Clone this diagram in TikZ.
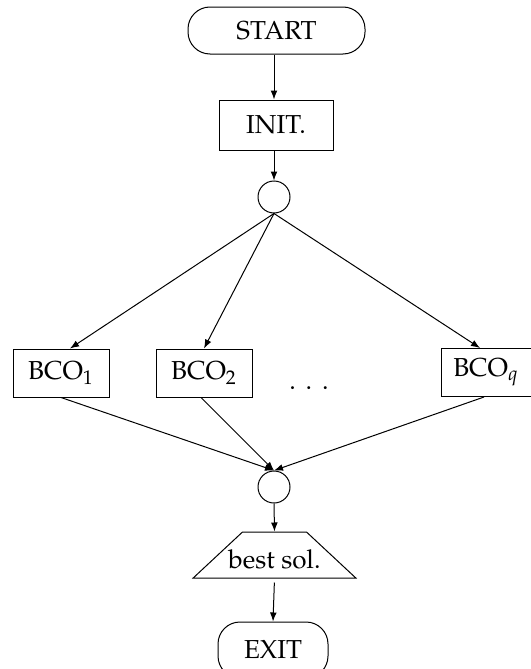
\documentclass[tikz,border=0pt]{standalone}
\usepackage[T1]{fontenc}
\usepackage{mathpazo}
\usetikzlibrary{arrows.meta,shapes.geometric}
\begin{document}
\begin{tikzpicture}[x=0.5pt,y=-0.5pt, line width=0.5pt,
  every node/.style={font=\fontsize{13}{15}\selectfont, inner sep=0pt},
  term/.style={draw, rounded corners=11pt},
  box/.style={draw, minimum width=48pt, minimum height=24pt},
  junc/.style={draw, circle, minimum size=16pt},
  arr/.style={-{Latex[length=4.5pt,width=3.4pt]}}]
\useasboundingbox (0,0) rectangle (530,669);
\node[term, minimum width=88.5pt, minimum height=23.5pt] (start) at (276.5,30.5) {START};
\node[draw, minimum width=57pt, minimum height=25pt] (init) at (276,125) {INIT.};
\node[junc] (c1) at (274,197) {};
\node[box] (b1) at (61,373) {BCO$_1$};
\node[box] (b2) at (204,373) {BCO$_2$};
\node[anchor=base] (dots) at (309,389) {.\hspace{4.9pt}.\hspace{4.9pt}.};
\node[box, minimum width=45pt] (bq) at (486,372.5) {BCO$_q$\hspace{4.5pt}};
\node[junc] (c2) at (274,487) {};
\node[trapezium, trapezium angle=43, draw, text height=18pt, text depth=5pt] (best) at (274.5,555) {\makebox[32pt]{best sol.}};
\node[term, minimum width=55pt, minimum height=28pt] (exit) at (273,650) {EXIT};
\draw[arr] (start.south -| c1) -- (init.north -| c1);
\draw[arr] (init.south -| c1) -- (c1.north);
\draw[arr] (c1.south) -- ([xshift=4.5pt]b1.north);
\draw[arr] (c1.south) -- (b2.north);
\draw[arr] (c1.south) -- ([xshift=-3pt]bq.north);
\draw[arr] (b1.south) -- (c2.north);
\draw[arr] ([xshift=-1.5pt]b2.south) -- (c2.north);
\draw[arr] ([xshift=-1pt]bq.south) -- (c2.north);
\draw[arr] (c2.south) -- (best.north);
\draw[arr, shorten <=2pt] (best.south) -- (exit.north);
\end{tikzpicture}
\end{document}
